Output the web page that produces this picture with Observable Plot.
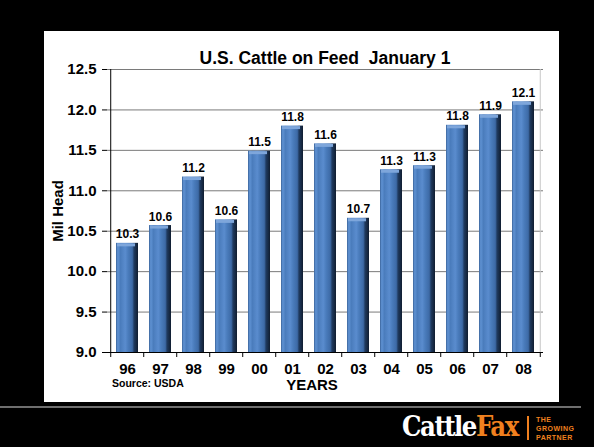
<!DOCTYPE html>
<html><head><meta charset="utf-8">
<script src="https://cdn.jsdelivr.net/npm/d3@7"></script>
<script src="https://cdn.jsdelivr.net/npm/@observablehq/plot@0.6"></script>
<style>
html,body{margin:0;padding:0;background:#000;}
#wrap{position:relative;width:594px;height:447px;background:#000;overflow:hidden;font-family:"Liberation Sans",Arial,sans-serif;}
#panel{position:absolute;left:44px;top:31px;width:515px;height:371px;background:#fff;}
#chart{position:absolute;left:0;top:0;}
#title{position:absolute;left:107px;width:436px;top:48px;line-height:20px;text-align:center;font-weight:bold;font-size:17.5px;color:#000;white-space:pre;}
#years{position:absolute;left:262px;width:100px;top:376px;text-align:center;font-weight:bold;font-size:15px;color:#000;}
#source{position:absolute;left:112px;top:377px;font-weight:bold;font-size:10.5px;color:#000;}
#rule{position:absolute;left:0;top:406px;width:581px;height:2px;background:#6e6e6e;}
#logo{position:absolute;left:402px;top:412px;height:32px;}
#logo .c{position:absolute;left:0;top:0;font-family:"DejaVu Serif Condensed","DejaVu Serif",serif;font-weight:bold;font-size:28px;letter-spacing:-1.5px;color:#fff;line-height:30px;white-space:nowrap;transform:scaleX(0.97);transform-origin:0 0;}
#logo .c span{color:#f0801f;}
#logo .bar{position:absolute;left:125px;top:4px;width:2px;height:24px;background:#f0801f;}
#logo .t{position:absolute;left:134px;top:3px;font-family:"Liberation Sans",Arial,sans-serif;font-weight:bold;font-size:7px;line-height:9px;letter-spacing:0.5px;color:#f0801f;white-space:nowrap;}
</style>
</head>
<body>
<div id="wrap">
  <div id="panel"></div>
  <div id="chart"></div>
  <div id="title">U.S. Cattle on Feed  January 1</div>
  <div id="years">YEARS</div>
  <div id="source">Source: USDA</div>
  <div id="rule"></div>
  <div id="logo"><div class="c">Cattle<span>Fax</span></div><div class="bar"></div><div class="t">THE<br>GROWING<br>PARTNER</div></div>
</div>
<script>
const years = ["96","97","98","99","00","01","02","03","04","05","06","07","08"];
const values = [10.35,10.57,11.17,10.64,11.49,11.80,11.58,10.66,11.26,11.31,11.81,11.94,12.10];
const valueLabels = ["10.3","10.6","11.2","10.6","11.5","11.8","11.6","10.7","11.3","11.3","11.8","11.9","12.1"];
const yTicks = [9.0,9.5,10.0,10.5,11.0,11.5,12.0,12.5];

const data = years.map((y,i)=>({year:y,value:values[i],label:valueLabels[i]}));
const W=594,H=447,ML=107,MR=51,MT=69,MB=95;
const step=(W-ML-MR)/years.length;

const svg = Plot.plot({
  width:W,height:H,marginLeft:ML,marginRight:MR,marginTop:MT,marginBottom:MB,
  style:{background:"none",fontFamily:"Liberation Sans, Arial, sans-serif",color:"#000"},
  x:{domain:years,paddingInner:0.34,paddingOuter:0.17,label:null},
  y:{domain:[9,12.5],label:null},
  marks:[
    Plot.gridY(yTicks,{stroke:"#7a7a7a",strokeOpacity:1}),
    Plot.ruleX([years[years.length-1]],{dx:step/2,stroke:"#c8c8c8"}),
    Plot.barY(data,{x:"year",y1:9,y2:"value",fill:"url(#barGrad)"}),
    Plot.tickY(data,{x:"year",y:"value",stroke:"#7ea6db",strokeWidth:3,dy:1.5,insetLeft:1,insetRight:3}),
    Plot.text(data,{x:"year",y:"value",text:"label",dy:-5,lineAnchor:"bottom",fontWeight:"bold",fontSize:12,fill:"#000"}),
    Plot.axisY(yTicks,{tickSize:5,tickPadding:6,tickFormat:d=>d.toFixed(1),fontSize:15,fontWeight:"bold",label:"Mil Head",labelAnchor:"center",labelOffset:55,labelArrow:"none"}),
    Plot.axisX({tickSize:0,tickPadding:11,fontSize:15,fontWeight:"bold",label:null}),
    Plot.axisX({tickSize:5,text:null,dx:-step/2,label:null}),
    Plot.axisX([years[years.length-1]],{tickSize:5,text:null,dx:step/2,label:null}),
    Plot.ruleX([years[0]],{dx:-step/2,stroke:"#000"}),
    Plot.ruleY([9],{stroke:"#000"})
  ]
});
const ns="http://www.w3.org/2000/svg";
const defs=document.createElementNS(ns,"defs");
defs.innerHTML=`<linearGradient id="barGrad" x1="0" x2="1" y1="0" y2="0">
<stop offset="0" stop-color="#3a6399"/>
<stop offset="0.08" stop-color="#5f92d3"/>
<stop offset="0.2" stop-color="#4a7cbc"/>
<stop offset="0.42" stop-color="#5a8cce"/>
<stop offset="0.55" stop-color="#4a7cbc"/>
<stop offset="0.74" stop-color="#3d6aa6"/>
<stop offset="0.82" stop-color="#1f3a5f"/>
<stop offset="1" stop-color="#101d30"/>
</linearGradient>`;
svg.insertBefore(defs, svg.firstChild);
document.getElementById("chart").appendChild(svg);
</script>
</body></html>
